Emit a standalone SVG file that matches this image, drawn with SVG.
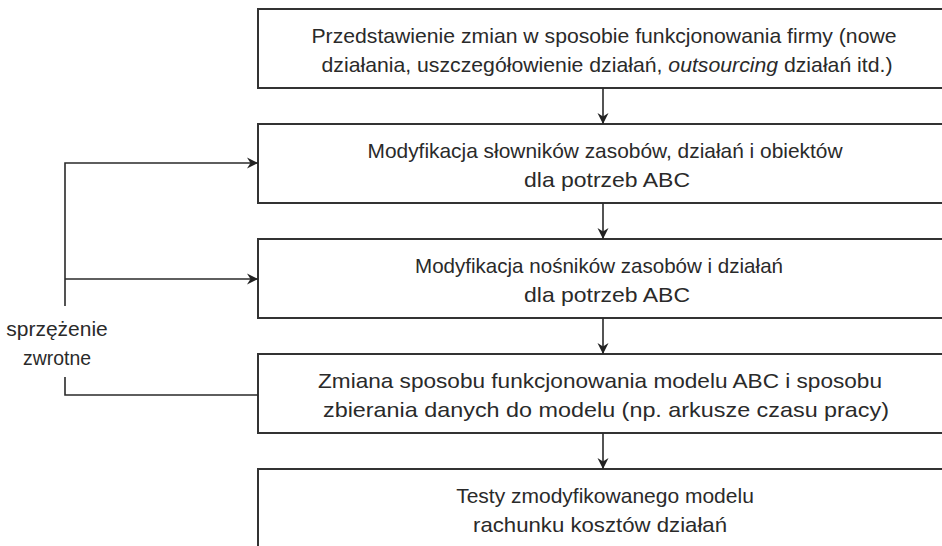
<svg xmlns="http://www.w3.org/2000/svg" width="942" height="546" viewBox="0 0 942 546">
  <defs>
    <marker id="arrow" markerUnits="userSpaceOnUse" markerWidth="12" markerHeight="12" refX="11" refY="6" orient="auto">
      <path d="M0,0.5 L11,6 L0,11.5 L3.5,6 Z" fill="#222"/>
    </marker>
    <style>
      .box { fill: #fff; stroke: #333; stroke-width: 2; }
      .lbl { font-family: "Liberation Sans", Arial, sans-serif; font-size: 21px; fill: #2a2a2a; text-anchor: middle; }
      .link { fill: none; stroke: #2a2a2a; stroke-width: 1.6; }
    </style>
  </defs>
  <rect width="942" height="546" fill="#fff"/>

  <!-- process steps -->
  <g id="step1">
    <rect class="box" x="258" y="9" width="700" height="79"/>
    <text class="lbl" x="604" y="43" textLength="585" lengthAdjust="spacingAndGlyphs">Przedstawienie zmian w sposobie funkcjonowania firmy (nowe</text>
    <text class="lbl" x="607" y="72" textLength="571" lengthAdjust="spacingAndGlyphs">działania, uszczegółowienie działań, <tspan font-style="italic">outsourcing</tspan> działań itd.)</text>
  </g>
  <g id="step2">
    <rect class="box" x="258" y="124" width="700" height="79"/>
    <text class="lbl" x="605" y="158" textLength="475" lengthAdjust="spacingAndGlyphs">Modyfikacja słowników zasobów, działań i obiektów</text>
    <text class="lbl" x="607" y="187" textLength="166" lengthAdjust="spacingAndGlyphs">dla potrzeb ABC</text>
  </g>
  <g id="step3">
    <rect class="box" x="258" y="239" width="700" height="79"/>
    <text class="lbl" x="599" y="273" textLength="368" lengthAdjust="spacingAndGlyphs">Modyfikacja nośników zasobów i działań</text>
    <text class="lbl" x="607" y="302" textLength="166" lengthAdjust="spacingAndGlyphs">dla potrzeb ABC</text>
  </g>
  <g id="step4">
    <rect class="box" x="258" y="354" width="700" height="79"/>
    <text class="lbl" x="600" y="388" textLength="564" lengthAdjust="spacingAndGlyphs">Zmiana sposobu funkcjonowania modelu ABC i sposobu</text>
    <text class="lbl" x="606" y="417" textLength="566" lengthAdjust="spacingAndGlyphs">zbierania danych do modelu (np. arkusze czasu pracy)</text>
  </g>
  <g id="step5">
    <rect class="box" x="258" y="469" width="700" height="100"/>
    <text class="lbl" x="605" y="503">Testy zmodyfikowanego modelu</text>
    <text class="lbl" x="600" y="532" textLength="254" lengthAdjust="spacingAndGlyphs">rachunku kosztów działań</text>
  </g>

  <!-- feedback label -->
  <g id="feedback">
    <text class="lbl" x="57" y="336">sprzężenie</text>
    <text class="lbl" x="57" y="365" textLength="68" lengthAdjust="spacingAndGlyphs">zwrotne</text>
  </g>

  <!-- connectors -->
  <g id="connectors">
    <line class="link" x1="603" y1="88" x2="603" y2="124" marker-end="url(#arrow)"/>
    <line class="link" x1="603" y1="203" x2="603" y2="239" marker-end="url(#arrow)"/>
    <line class="link" x1="603" y1="318" x2="603" y2="354" marker-end="url(#arrow)"/>
    <line class="link" x1="603" y1="433" x2="603" y2="469" marker-end="url(#arrow)"/>
    <polyline class="link" points="65,306 65,163 258,163" marker-end="url(#arrow)"/>
    <line class="link" x1="65" y1="279" x2="258" y2="279" marker-end="url(#arrow)"/>
    <polyline class="link" points="65,377 65,395 258,395"/>
  </g>
</svg>
